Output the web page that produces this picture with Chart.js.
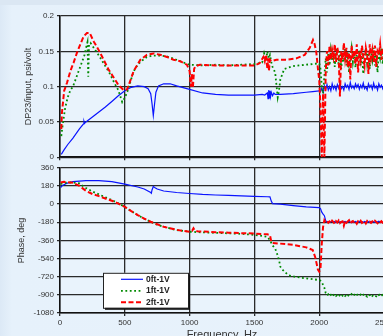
<!DOCTYPE html>
<html>
<head>
<meta charset="utf-8">
<script src="https://cdn.jsdelivr.net/npm/chart.js@4"></script>
<style>
html, body { margin: 0; padding: 0; }
body { width: 383px; height: 336px; overflow: hidden; position: relative;
  background: linear-gradient(to right, #dce9f6 0px, #e6f1fb 12px, #e8f2fb 100%); }
.band { position: absolute; left: 0; top: 0; width: 383px; height: 5px; background: #dbe7f3; }
canvas { position: absolute; left: 0; }
#mag { top: 0; }
#phase { top: 160px; }
</style>
</head>
<body>
<div class="band"></div>
<canvas id="mag" width="400" height="165"></canvas>
<canvas id="phase" width="400" height="182"></canvas>
<script>
// shared frequency grid for the noisy part above 2 kHz
const noiseFreq = [2010,2020,2030,2040,2050,2060,2070,2080,2090,2100,
  2110,2120,2130,2140,2150,2160,2170,2180,2190,2200,
  2210,2220,2230,2240,2250,2260,2270,2280,2290,2300,
  2310,2320,2330,2340,2350,2360,2370,2380,2390,2400,
  2410,2420,2430,2440,2450,2460,2470,2480,2490,2500];

// magnitude, 0ft-1V
const magFreq0 = [10,30,60,100,150,180,185,190,200,250,300,350,400,450,500,550,600,650,680,700,
  710,720,730,740,760,800,850,900,1000,1100,1200,1300,1400,1500,1560,1580,1600,1605,1610,1615,
  1620,1625,1630,1640,1650,1660,1700,1800,1900,1950,2000];
const mag0 = [0.004,0.01,0.018,0.027,0.04,0.047,0.051,0.048,0.05,0.057,0.064,0.071,0.079,0.087,0.094,0.099,0.101,0.1,0.097,0.09,
  0.076,0.059,0.076,0.092,0.101,0.104,0.104,0.101,0.096,0.091,0.089,0.088,0.088,0.088,0.089,0.088,0.091,0.083,0.095,0.084,
  0.094,0.086,0.092,0.087,0.091,0.089,0.089,0.09,0.092,0.093,0.094];
const mag0Noise = [0.093,0.098,0.092,0.101,0.096,0.103,0.095,0.1,0.094,0.104,
  0.097,0.101,0.095,0.103,0.098,0.105,0.097,0.1,0.095,0.104,
  0.099,0.102,0.096,0.106,0.098,0.101,0.097,0.104,0.099,0.103,
  0.096,0.102,0.098,0.105,0.097,0.1,0.095,0.104,0.099,0.102,
  0.096,0.105,0.098,0.101,0.095,0.104,0.099,0.102,0.097,0.103];

// magnitude, 1ft-1V
const magFreq1 = [10,20,40,60,80,100,130,160,190,205,212,218,224,235,260,300,340,380,420,450,
  480,500,520,540,560,580,620,670,720,770,820,870,925,1000,1100,1200,1300,1400,1500,1560,
  1575,1590,1600,1610,1620,1630,1640,1660,1680,1690,1700,1730,1800,1900,1950,2000];
const mag1 = [0.03,0.045,0.07,0.085,0.095,0.1,0.115,0.13,0.145,0.158,0.163,0.114,0.16,0.162,0.155,0.144,0.132,0.12,0.105,0.095,
  0.078,0.084,0.093,0.105,0.117,0.126,0.135,0.142,0.144,0.144,0.143,0.14,0.136,0.131,0.13,0.131,0.13,0.131,0.132,0.134,
  0.147,0.137,0.15,0.14,0.145,0.135,0.128,0.12,0.085,0.095,0.11,0.125,0.129,0.131,0.132,0.133];
const mag1Noise = [0.125,0.1,0.09,0.115,0.14,0.12,0.148,0.13,0.152,0.138,
  0.145,0.128,0.155,0.14,0.132,0.15,0.125,0.146,0.135,0.153,
  0.13,0.148,0.12,0.142,0.155,0.135,0.15,0.127,0.145,0.138,
  0.152,0.13,0.147,0.118,0.14,0.155,0.133,0.148,0.125,0.15,
  0.138,0.155,0.13,0.146,0.12,0.15,0.14,0.155,0.132,0.148];

// magnitude, 2ft-1V
const magFreq2 = [10,15,32,55,80,105,131,157,182,208,229,260,298,337,375,414,452,491,517,542,
  568,620,670,722,773,825,876,927,979,1000,1010,1017,1025,1035,1045,1080,1200,1300,1400,1500,
  1540,1570,1580,1590,1600,1605,1612,1620,1631,1670,1747,1824,1888,1927,1952,1965,1978,1991,2000];
const mag2 = [0.04,0.063,0.094,0.106,0.122,0.134,0.148,0.16,0.171,0.176,0.176,0.164,0.152,0.138,0.124,0.113,0.102,0.095,0.096,0.108,
  0.122,0.138,0.145,0.147,0.145,0.142,0.138,0.136,0.131,0.122,0.1,0.118,0.098,0.125,0.129,0.131,0.13,0.13,0.13,0.13,
  0.133,0.142,0.136,0.145,0.125,0.14,0.122,0.138,0.136,0.138,0.138,0.14,0.145,0.155,0.166,0.16,0.148,0.124,0.11];
const mag2Noise = [0.07,0.0,0.09,0.0,0.12,0.15,0.13,0.158,0.138,0.152,
  0.142,0.16,0.135,0.155,0.145,0.086,0.15,0.138,0.162,0.14,
  0.155,0.128,0.148,0.11,0.158,0.14,0.152,0.132,0.16,0.12,
  0.15,0.138,0.158,0.142,0.13,0.155,0.145,0.118,0.16,0.14,
  0.152,0.135,0.158,0.128,0.15,0.145,0.16,0.138,0.155,0.148];

// phase, 0ft-1V
const phFreq0 = [5,20,50,100,200,300,400,500,600,650,700,705,710,720,730,750,800,900,1000,1100,
  1200,1300,1400,1500,1600,1620,1630,1640,1700,1800,1900,2000];
const ph0 = [165,185,205,222,232,232,222,198,170,150,115,108,140,175,165,150,130,115,105,96,
  90,86,81,77,73,72,30,5,0,-15,-28,-35];
const ph0Noise = [-45,-80,-100,-115,-165,-178,-172,-180,-175,-170,
  -178,-173,-182,-176,-171,-179,-174,-181,-176,-172,
  -180,-175,-171,-178,-183,-174,-177,-172,-180,-176,
  -173,-179,-175,-182,-171,-177,-180,-174,-178,-172,
  -179,-175,-181,-173,-177,-170,-178,-176,-182,-174];

// phase, 1ft-1V
const phFreq1 = [5,50,100,150,200,250,300,350,400,450,500,550,600,650,700,750,800,900,1000,1100,
  1200,1300,1400,1500,1560,1600,1620,1640,1660,1680,1690,1700,1720,1760,1810,1900,2000];
const ph1 = [200,212,215,205,160,125,96,68,40,8,-27,-70,-109,-145,-175,-205,-225,-258,-274,-280,
  -285,-290,-295,-305,-315,-325,-357,-410,-440,-510,-555,-621,-654,-704,-720,-737,-753];
const ph1Noise = [-760,-775,-800,-830,-880,-905,-895,-912,-900,-918,
  -903,-893,-910,-898,-915,-902,-890,-908,-897,-912,
  -900,-915,-895,-905,-892,-910,-899,-916,-902,-894,
  -908,-897,-913,-900,-891,-906,-918,-899,-904,-893,
  -911,-898,-906,-915,-896,-903,-892,-909,-900,-914];

// phase, 2ft-1V
const phFreq2 = [5,30,60,100,150,200,250,300,350,400,450,500,550,600,650,700,750,800,900,1000,
  1020,1030,1040,1060,1100,1200,1300,1400,1500,1600,1620,1630,1640,1700,1800,1900,1950,1970,1990,2000];
const ph2 = [215,222,218,212,180,132,100,79,55,33,5,-27,-70,-109,-145,-175,-200,-225,-255,-275,
  -265,-240,-262,-270,-272,-278,-283,-288,-292,-300,-307,-370,-385,-392,-404,-429,-455,-530,-650,-670];
const ph2Noise = [-640,-390,-225,-160,-180,-168,-185,-172,-190,-165,
  -178,-195,-170,-182,-162,-188,-175,-170,-215,-168,
  -185,-172,-160,-190,-176,-168,-184,-173,-195,-170,
  -180,-165,-187,-175,-170,-192,-168,-181,-174,-186,
  -171,-183,-166,-178,-190,-172,-180,-169,-185,-176];

const labels = ['0ft-1V', '1ft-1V', '2ft-1V'];
const magTicks = [0, 0.05, 0.1, 0.15, 0.2];
const phaseTicks = [360, 180, 0, -180, -360, -540, -720, -900, -1080];

Chart.defaults.font.family = 'Liberation Sans, Arial, sans-serif';
Chart.defaults.font.size = 8;
Chart.defaults.color = '#333';

let pts = (f, v) => f.map((x, i) => ({x: x, y: v[i]}));

let styles = [
  {borderColor: '#0a14ff', borderWidth: 1.2, borderDash: [], order: 3},
  {borderColor: '#008a00', borderWidth: 1.8, borderDash: [1.8, 2.6], order: 2},
  {borderColor: '#ff0000', borderWidth: 2, borderDash: [5, 2.5], order: 1}
];

let makeSets = (series) => series.map((d, i) => Object.assign({
  label: labels[i],
  data: d,
  pointRadius: 0,
  tension: 0,
  fill: false
}, styles[i]));

const plotFill = {
  id: 'plotFill',
  beforeDraw(chart) {
    let a = chart.chartArea;
    chart.ctx.save();
    chart.ctx.fillStyle = '#e9f3fc';
    chart.ctx.fillRect(a.left, a.top, a.right - a.left, a.bottom - a.top);
    chart.ctx.restore();
  }
};

const legendBox = {
  id: 'legendBox',
  afterDraw(chart) {
    let ctx = chart.ctx;
    let a = chart.chartArea;
    let left = a.left + 43, top = a.top + 105, w = 85, h = 35;
    ctx.save();
    ctx.fillStyle = '#111';
    ctx.fillRect(left + 2, top + 2, w, h);
    ctx.fillStyle = '#fff';
    ctx.fillRect(left, top, w, h);
    ctx.strokeStyle = '#222';
    ctx.lineWidth = 1;
    ctx.strokeRect(left + 0.5, top + 0.5, w, h);
    chart.data.datasets.forEach((ds, i) => {
      let y = top + 6.5 + i * 11.5;
      ctx.beginPath();
      ctx.setLineDash(ds.borderDash);
      ctx.strokeStyle = ds.borderColor;
      ctx.lineWidth = ds.borderWidth;
      ctx.moveTo(left + 18, y);
      ctx.lineTo(left + 40, y);
      ctx.stroke();
      ctx.setLineDash([]);
      ctx.fillStyle = '#222';
      ctx.font = 'bold 8.5px Liberation Sans, Arial, sans-serif';
      ctx.textBaseline = 'middle';
      ctx.fillText(ds.label, left + 43, y);
    });
    ctx.restore();
  }
};

let gridStyle = {color: '#2a2a2a', lineWidth: 1.3, tickLength: 3};
let borderStyle = {color: '#111', width: 1.5};

let xAxis = (showLabels, height) => ({
  type: 'linear', min: 0, max: 2500,
  grid: gridStyle, border: borderStyle,
  ticks: {stepSize: 500, display: showLabels, padding: 2, maxRotation: 0, callback: (v) => String(v)},
  title: {display: showLabels, text: 'Frequency, Hz', font: {size: 11}, padding: {top: 0, bottom: 0}},
  afterFit: (s) => { s.height = height; }
});

let magChart = new Chart(document.getElementById('mag'), {
  type: 'line',
  data: {datasets: makeSets([
    pts(magFreq0.concat(noiseFreq), mag0.concat(mag0Noise)),
    pts(magFreq1.concat(noiseFreq), mag1.concat(mag1Noise)),
    pts(magFreq2.concat(noiseFreq), mag2.concat(mag2Noise))
  ])},
  options: {
    responsive: false, animation: false, devicePixelRatio: 1,
    layout: {padding: {top: 16, right: 16, left: 0, bottom: 0}},
    plugins: {legend: {display: false}, tooltip: {enabled: false}},
    scales: {
      x: xAxis(false, 6),
      y: {
        min: 0, max: 0.2,
        grid: gridStyle, border: borderStyle,
        afterBuildTicks: (s) => { s.ticks = magTicks.map((v) => ({value: v})); },
        ticks: {padding: 3, callback: (v) => String(+v.toFixed(2))},
        title: {display: true, text: 'DP23/input, psi/volt', font: {size: 9}, padding: {top: 23.6, bottom: 0}},
        afterFit: (s) => { s.width = 60; }
      }
    }
  },
  plugins: [plotFill]
});

let phaseChart = new Chart(document.getElementById('phase'), {
  type: 'line',
  data: {datasets: makeSets([
    pts(phFreq0.concat(noiseFreq), ph0.concat(ph0Noise)),
    pts(phFreq1.concat(noiseFreq), ph1.concat(ph1Noise)),
    pts(phFreq2.concat(noiseFreq), ph2.concat(ph2Noise))
  ])},
  options: {
    responsive: false, animation: false, devicePixelRatio: 1,
    layout: {padding: {top: 7, right: 16, left: 0, bottom: 0}},
    plugins: {legend: {display: false}, tooltip: {enabled: false}},
    scales: {
      x: xAxis(true, 29),
      y: {
        min: -1080, max: 360,
        grid: gridStyle, border: borderStyle,
        afterBuildTicks: (s) => { s.ticks = phaseTicks.map((v) => ({value: v})); },
        ticks: {padding: 3, callback: (v) => String(v)},
        title: {display: true, text: 'Phase, deg', font: {size: 9}, padding: {top: 16.3, bottom: 0}},
        afterFit: (s) => { s.width = 60; }
      }
    }
  },
  plugins: [plotFill, legendBox]
});
</script>
</body>
</html>
